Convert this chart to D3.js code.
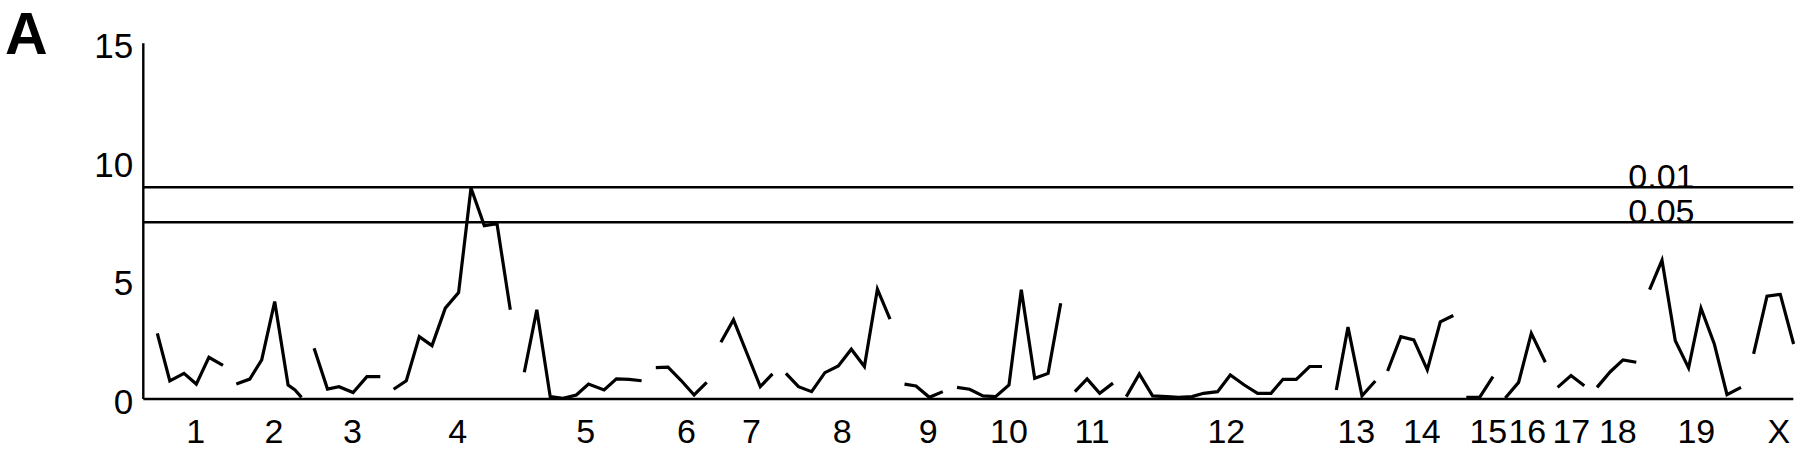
<!DOCTYPE html>
<html>
<head>
<meta charset="utf-8">
<script src="https://cdn.jsdelivr.net/npm/d3@7"></script>
<style>
  html, body { margin: 0; padding: 0; background: #fff; }
  svg { display: block; }
  text { font-family: "Liberation Sans", Arial, Helvetica, sans-serif; fill: #000; }
</style>
</head>
<body>
<svg id="chart" width="1800" height="452"></svg>
<script>
// ---- Data (genome position in cM-like units, LOD score) ----
const chromosomes = ["1","2","3","4","5","6","7","8","9","10","11","12","13","14","15","16","17","18","19","X"];
const labelPositions = [52.5,130.6,209.1,314.3,442.5,543.1,608.2,698.9,785,865.7,948.8,1083,1213,1278.5,1345,1384,1428,1474.5,1553,1635.5];

const chr1Pos  = [14, 26.5, 40.7, 53, 65.6, 79.7];
const chr1Lod  = [2.77, 0.76, 1.08, 0.63, 1.76, 1.42];
const chr2Pos  = [93, 106.5, 118.4, 131.4, 144.8, 151.7, 158.2];
const chr2Lod  = [0.63, 0.84, 1.65, 4.11, 0.59, 0.38, 0.07];
const chr3Pos  = [170.8, 184.2, 195.7, 209.8, 223.6, 237];
const chr3Lod  = [2.14, 0.42, 0.52, 0.27, 0.94, 0.94];
const chr4Pos  = [250.3, 263, 276, 288.7, 302, 315.3, 327.7, 341, 353.7, 367];
const chr4Lod  = [0.41, 0.77, 2.63, 2.25, 3.83, 4.49, 8.90, 7.31, 7.39, 3.76];
const chr5Pos  = [381, 393.5, 406.9, 419.6, 433, 445.2, 460.8, 473.1, 485.7, 498.3];
const chr5Lod  = [1.13, 3.76, 0.10, 0.03, 0.17, 0.63, 0.38, 0.85, 0.83, 0.77];
const chr6Pos  = [512.5, 524.7, 537.4, 550.8, 563.4];
const chr6Lod  = [1.32, 1.34, 0.80, 0.17, 0.70];
const chr7Pos  = [577.6, 590.2, 603.6, 617, 629.2];
const chr7Lod  = [2.39, 3.34, 1.93, 0.52, 1.06];
const chr8Pos  = [642.6, 655.2, 668.3, 681.6, 695, 708, 721.1, 734.1, 746.7];
const chr8Lod  = [1.08, 0.52, 0.31, 1.11, 1.39, 2.10, 1.37, 4.63, 3.37];
const chr9Pos  = [761.2, 772.7, 786.1, 799.5];
const chr9Lod  = [0.63, 0.55, 0.07, 0.31];
const chr10Pos = [813.7, 826.3, 839.7, 852.3, 865.7, 878, 891.4, 904.8, 917.4];
const chr10Lod = [0.49, 0.41, 0.13, 0.10, 0.59, 4.61, 0.87, 1.08, 4.04];
const chr11Pos = [931.6, 943.8, 956.4, 969.7];
const chr11Lod = [0.31, 0.85, 0.24, 0.67];
const chr12Pos = [983, 996, 1009.3, 1023.7, 1035.3, 1048.7, 1060.3, 1074.3, 1087, 1101, 1114.3, 1127.7, 1139.7, 1153, 1166.3, 1178.7];
const chr12Lod = [0.10, 1.06, 0.13, 0.10, 0.07, 0.10, 0.24, 0.31, 1.01, 0.59, 0.24, 0.24, 0.83, 0.83, 1.37, 1.37];
const chr13Pos = [1193, 1204.7, 1218.7, 1232];
const chr13Lod = [0.38, 3.03, 0.13, 0.76];
const chr14Pos = [1244.3, 1257.5, 1270.5, 1284, 1297, 1310];
const chr14Lod = [1.18, 2.63, 2.49, 1.23, 3.25, 3.52];
const chr15Pos = [1323, 1336.3, 1349.7];
const chr15Lod = [0.07, 0.07, 0.94];
const chr16Pos = [1362, 1375.3, 1388, 1402];
const chr16Lod = [0.04, 0.70, 2.77, 1.55];
const chr17Pos = [1414.3, 1427.7, 1441];
const chr17Lod = [0.49, 0.99, 0.56];
const chr18Pos = [1453.7, 1467, 1479.7, 1493];
const chr18Lod = [0.49, 1.15, 1.65, 1.55];
const chr19Pos = [1506.3, 1518.7, 1532, 1545.3, 1557.7, 1571, 1583.7, 1597.7];
const chr19Lod = [4.61, 5.85, 2.46, 1.31, 3.83, 2.32, 0.18, 0.49];
const chrXPos  = [1610.3, 1623.7, 1637, 1650.3];
const chrXLod  = [1.90, 4.34, 4.41, 2.32];

const yTicks = [0, 5, 10, 15];
const thresholds = [8.93, 7.45];
const thresholdLabels = ["0.01", "0.05"];
const panelLabel = "A";
const genomeLength = 1650;

// ---- Build ----
(function () {
  const positions = [chr1Pos,chr2Pos,chr3Pos,chr4Pos,chr5Pos,chr6Pos,chr7Pos,chr8Pos,chr9Pos,chr10Pos,chr11Pos,chr12Pos,chr13Pos,chr14Pos,chr15Pos,chr16Pos,chr17Pos,chr18Pos,chr19Pos,chrXPos];
  const lods = [chr1Lod,chr2Lod,chr3Lod,chr4Lod,chr5Lod,chr6Lod,chr7Lod,chr8Lod,chr9Lod,chr10Lod,chr11Lod,chr12Lod,chr13Lod,chr14Lod,chr15Lod,chr16Lod,chr17Lod,chr18Lod,chr19Lod,chrXLod];
  const series = chromosomes.map((c, i) => positions[i].map((p, j) => ({pos: p, lod: lods[i][j]})));

  const svg = d3.select("#chart");
  const mLeft = 143.3, mRight = 1793.3, mTop = 43.3, mBottom = 399;

  const x = d3.scaleLinear().domain([0, genomeLength]).range([mLeft, mRight]);
  const y = d3.scaleLinear().domain([0, 15]).range([mBottom, mTop]);

  // Panel letter
  svg.append("text").attr("x", 5).attr("y", 54)
    .attr("font-size", 59).attr("font-weight", "bold").text(panelLabel);

  // Y axis line
  svg.append("line").attr("x1", mLeft).attr("x2", mLeft)
    .attr("y1", y(15)).attr("y2", y(0))
    .attr("stroke", "#000").attr("stroke-width", 2.4);

  // Y tick labels
  svg.selectAll("text.ytick").data(yTicks).enter().append("text")
    .attr("class", "ytick")
    .attr("x", mLeft - 10).attr("y", d => y(d) + 15)
    .attr("text-anchor", "end").attr("font-size", 35)
    .text(d => d);

  // X baseline
  svg.append("line").attr("x1", mLeft).attr("x2", mRight)
    .attr("y1", y(0)).attr("y2", y(0))
    .attr("stroke", "#000").attr("stroke-width", 2.6);

  // Threshold lines
  svg.selectAll("line.thr").data(thresholds).enter().append("line")
    .attr("class", "thr")
    .attr("x1", mLeft).attr("x2", mRight)
    .attr("y1", d => y(d)).attr("y2", d => y(d))
    .attr("stroke", "#000").attr("stroke-width", 2.5);

  svg.selectAll("text.thr").data(thresholds).enter().append("text")
    .attr("class", "thr")
    .attr("x", x(1485)).attr("y", d => y(d) + 1)
    .attr("font-size", 34)
    .text((d, i) => thresholdLabels[i]);

  // Chromosome labels
  svg.selectAll("text.chr").data(chromosomes).enter().append("text")
    .attr("class", "chr")
    .attr("x", (d, i) => x(labelPositions[i])).attr("y", 443)
    .attr("text-anchor", "middle").attr("font-size", 34)
    .text(d => d);

  // LOD curves
  const line = d3.line().x(d => x(d.pos)).y(d => y(d.lod));
  svg.selectAll("path.lod").data(series).enter().append("path")
    .attr("class", "lod")
    .attr("d", line)
    .attr("fill", "none").attr("stroke", "#000")
    .attr("stroke-width", 3.2).attr("stroke-linejoin", "miter").attr("stroke-linecap", "butt");
})();
</script>
</body>
</html>
